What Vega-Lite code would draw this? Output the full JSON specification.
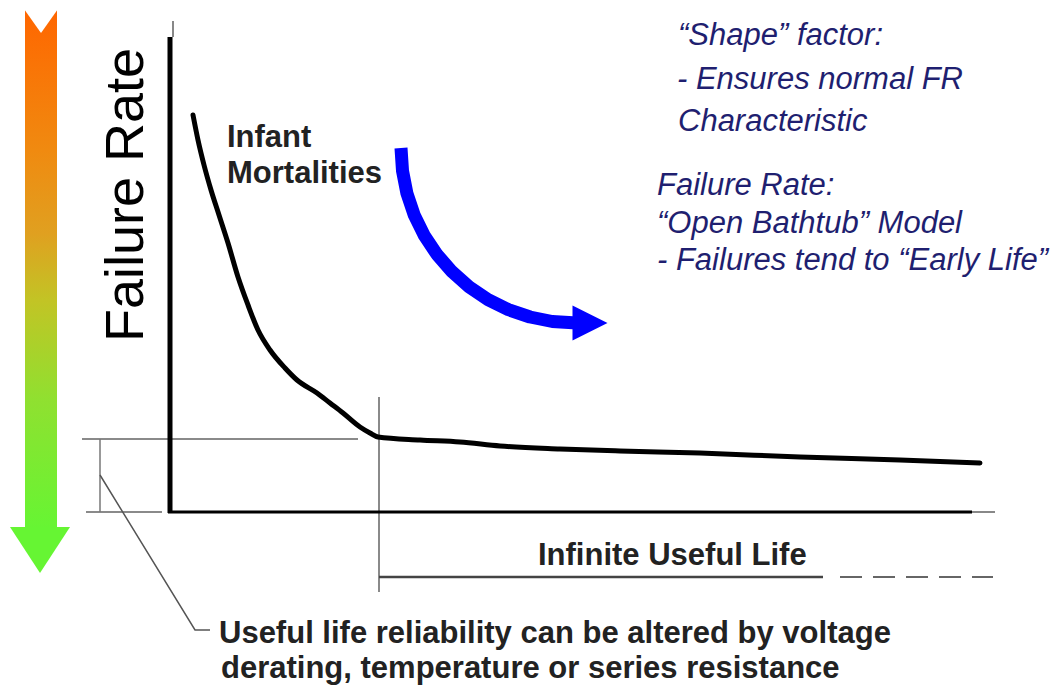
{
  "$schema": "https://vega.github.io/schema/vega-lite/v6.json",
  "width": 1059,
  "height": 688,
  "autosize": {"type": "fit", "contains": "padding"},
  "padding": 0,
  "background": "white",
  "config": {"view": {"stroke": null}},
  "datasets": {
    "curve": [
      {"t": 21, "r": 397}, {"t": 26, "r": 372}, {"t": 32, "r": 347}, {"t": 39, "r": 322},
      {"t": 47, "r": 297}, {"t": 56, "r": 269}, {"t": 66, "r": 235}, {"t": 76, "r": 207},
      {"t": 86, "r": 182}, {"t": 98, "r": 162}, {"t": 113, "r": 144}, {"t": 125, "r": 132},
      {"t": 145, "r": 119}, {"t": 158, "r": 109}, {"t": 171, "r": 99}, {"t": 188, "r": 85},
      {"t": 198, "r": 79}, {"t": 206, "r": 75}, {"t": 248, "r": 72}, {"t": 288, "r": 70},
      {"t": 328, "r": 66}, {"t": 388, "r": 63}, {"t": 448, "r": 61}, {"t": 528, "r": 59},
      {"t": 628, "r": 55}, {"t": 728, "r": 52}, {"t": 808, "r": 49}
    ],
    "arc": [
      {"t": 229, "r": 364}, {"t": 230.5, "r": 341.2}, {"t": 234.9, "r": 318.7}, {"t": 242.2, "r": 297},
      {"t": 252.3, "r": 276.5}, {"t": 265, "r": 257.5}, {"t": 280, "r": 240.3}, {"t": 297.1, "r": 225.2},
      {"t": 316, "r": 212.4}, {"t": 336.4, "r": 202.3}, {"t": 358, "r": 195}, {"t": 380.3, "r": 190.5},
      {"t": 405, "r": 189}
    ],
    "arcHead": [{"t": 418, "r": 189}],
    "shaft": [{"t": -147, "t2": -115, "r": 502, "r2": -17}],
    "notch": [{"t": -131, "r": 491}],
    "greenHead": [{"t": -132, "r": -38}],
    "axisV": [{"t": -2, "t2": -2, "r": 475, "r2": -1}],
    "axisH": [{"t": -4, "t2": 800, "r": 0, "r2": 0}],
    "axisThin": [{"t": 800, "t2": 823, "r": 0, "r2": 0}, {"t": 1, "t2": 1, "r": 491, "r2": 475}],
    "greyLines": [
      {"t": -90, "t2": 186, "r": 73, "r2": 73},
      {"t": -86, "t2": -10, "r": 0, "r2": 0},
      {"t": 207, "t2": 207, "r": 115, "r2": -80}
    ],
    "bracket": [{"t": -72, "t2": -72, "r": 73, "r2": 0}],
    "lifeLine": [{"t": 207, "t2": 651, "r": -65, "r2": -65}],
    "lifeDash": [{"t": 668, "t2": 821, "r": -65, "r2": -65}],
    "leader": [{"t": -72, "r": 37}, {"t": 23, "r": -118}, {"t": 38, "r": -118}],
    "yTitle": [{"t": -29, "r": 317, "label": "Failure Rate"}],
    "blackText": [
      {"t": 55, "r": 365, "label": "Infant"},
      {"t": 55, "r": 329, "label": "Mortalities"},
      {"t": 366, "r": -53, "label": "Infinite Useful Life"},
      {"t": 47, "r": -131, "label": "Useful life reliability can be altered by voltage"},
      {"t": 49, "r": -166, "label": "derating, temperature or series resistance"}
    ],
    "navyText": [
      {"t": 506, "r": 467, "label": "“Shape” factor:"},
      {"t": 505, "r": 423, "label": "- Ensures normal FR"},
      {"t": 506, "r": 381, "label": "Characteristic"},
      {"t": 485, "r": 317, "label": "Failure Rate:"},
      {"t": 485, "r": 279, "label": "“Open Bathtub” Model"},
      {"t": 485, "r": 242, "label": "- Failures tend to “Early Life”"}
    ]
  },
  "encoding": {
    "x": {"field": "t", "type": "quantitative", "axis": null, "scale": {"domain": [-172, 887], "nice": false, "zero": false}},
    "y": {"field": "r", "type": "quantitative", "axis": null, "scale": {"domain": [-176, 512], "nice": false, "zero": false}}
  },
  "layer": [
    {
      "data": {"name": "shaft"},
      "mark": {"type": "rect", "color": {"gradient": "linear", "x1": 0, "y1": 0, "x2": 0, "y2": 1,
        "stops": [
          {"offset": 0, "color": "#ff6600"},
          {"offset": 0.27, "color": "#f08a10"},
          {"offset": 0.43, "color": "#e0a020"},
          {"offset": 0.56, "color": "#c2c425"},
          {"offset": 0.75, "color": "#90e030"},
          {"offset": 1, "color": "#66f533"}
        ]}},
      "encoding": {"x2": {"field": "t2"}, "y2": {"field": "r2"}}
    },
    {
      "data": {"name": "notch"},
      "mark": {"type": "point", "shape": "M-1,-0.7L1,-0.7L0,0.7Z", "filled": true, "color": "white", "opacity": 1, "size": 1156, "strokeWidth": 0}
    },
    {
      "data": {"name": "greenHead"},
      "mark": {"type": "point", "shape": "M-1,-0.767L1,-0.767L0,0.767Z", "filled": true, "color": "#66f533", "opacity": 1, "size": 3600, "strokeWidth": 0}
    },
    {
      "data": {"name": "greyLines"},
      "mark": {"type": "rule", "color": "#8a8a8a", "strokeWidth": 2},
      "encoding": {"x2": {"field": "t2"}, "y2": {"field": "r2"}}
    },
    {
      "data": {"name": "bracket"},
      "mark": {"type": "rule", "color": "#777777", "strokeWidth": 1.5},
      "encoding": {"x2": {"field": "t2"}, "y2": {"field": "r2"}}
    },
    {
      "data": {"name": "lifeLine"},
      "mark": {"type": "rule", "color": "#444444", "strokeWidth": 2.5},
      "encoding": {"x2": {"field": "t2"}, "y2": {"field": "r2"}}
    },
    {
      "data": {"name": "lifeDash"},
      "mark": {"type": "rule", "color": "#666666", "strokeWidth": 2, "strokeDash": [22, 11]},
      "encoding": {"x2": {"field": "t2"}, "y2": {"field": "r2"}}
    },
    {
      "data": {"name": "axisThin"},
      "mark": {"type": "rule", "color": "#888888", "strokeWidth": 2},
      "encoding": {"x2": {"field": "t2"}, "y2": {"field": "r2"}}
    },
    {
      "data": {"name": "axisV"},
      "mark": {"type": "rule", "color": "black", "strokeWidth": 5},
      "encoding": {"x2": {"field": "t2"}, "y2": {"field": "r2"}}
    },
    {
      "data": {"name": "axisH"},
      "mark": {"type": "rule", "color": "black", "strokeWidth": 3},
      "encoding": {"x2": {"field": "t2"}, "y2": {"field": "r2"}}
    },
    {
      "data": {"name": "leader"},
      "mark": {"type": "line", "color": "#555555", "strokeWidth": 1.5},
      "encoding": {"order": {"value": null}}
    },
    {
      "data": {"name": "curve"},
      "mark": {"type": "line", "color": "black", "strokeWidth": 5, "strokeCap": "round", "strokeJoin": "round", "interpolate": "monotone"},
      "encoding": {"order": {"value": null}}
    },
    {
      "data": {"name": "arc"},
      "mark": {"type": "line", "color": "#0000ff", "strokeWidth": 13, "strokeCap": "butt", "strokeJoin": "round"},
      "encoding": {"order": {"value": null}}
    },
    {
      "data": {"name": "arcHead"},
      "mark": {"type": "point", "shape": "M-1,-1L1,0L-1,1Z", "filled": true, "color": "#0000ff", "opacity": 1, "size": 1225, "strokeWidth": 0}
    },
    {
      "data": {"name": "yTitle"},
      "mark": {"type": "text", "angle": 270, "align": "center", "baseline": "alphabetic", "font": "Liberation Sans", "fontSize": 54, "color": "black"},
      "encoding": {"text": {"field": "label"}}
    },
    {
      "data": {"name": "blackText"},
      "mark": {"type": "text", "align": "left", "baseline": "alphabetic", "font": "Liberation Sans", "fontWeight": "bold", "fontSize": 31, "color": "#222222"},
      "encoding": {"text": {"field": "label"}}
    },
    {
      "data": {"name": "navyText"},
      "mark": {"type": "text", "align": "left", "baseline": "alphabetic", "font": "Liberation Sans", "fontStyle": "italic", "fontSize": 31, "color": "#1f1f70"},
      "encoding": {"text": {"field": "label"}}
    }
  ]
}
